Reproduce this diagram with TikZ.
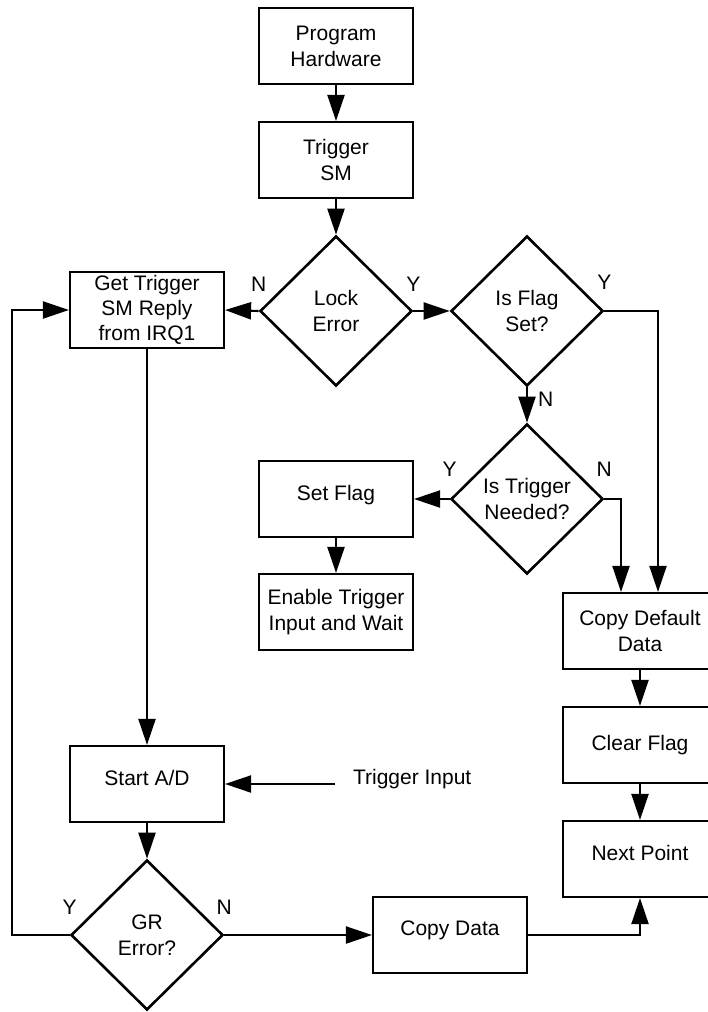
\documentclass[tikz,border=0pt]{standalone}
\usepackage{fontspec}
\setmainfont{Liberation Sans}
\usetikzlibrary{arrows.meta,shapes.geometric}

\begin{document}
\begin{tikzpicture}[x=1pt, y=-1pt, >={Triangle[length=26pt, width=17pt]}, line width=2.1pt,
	every node/.style={font=\fontsize{21}{26}\selectfont, align=center},
	box/.style={draw, rectangle, minimum width=154pt, minimum height=76pt, inner sep=2pt},
	hibox/.style={box, text depth=13pt},
	test/.style={draw, diamond, line width=2.6pt, minimum width=152pt, minimum height=150pt, inner sep=0pt},
	yn/.style={inner sep=0pt}]
	
	\useasboundingbox (0,0) rectangle (708,1012);
	
	% ================= top column =================
	\node[box] (prog) at (336,46) {Program\\Hardware};
	\node[box] (trig) at (336,160) {Trigger\\SM};
	\node[test] (lock) at (336,311) {Lock\\Error};
	\node[box, font=\fontsize{21}{25}\selectfont] (getr) at (147,310) {Get Trigger\\SM Reply\\from IRQ1};
	
	\draw[->] (prog.south) -- (trig.north);
	\draw[->] (trig.south) -- (lock.north);
	\draw[->] (lock.west) -- (getr.east);
	\node[yn, above=18pt] at (lock.west) {N};
	\node[yn, above=18pt] at (lock.east) {Y};
	
	% ================= flag tests =================
	\node[test] (flag) at (527,311) {Is Flag\\Set?};
	\node[test] (need) at (527,499) {Is Trigger\\Needed?};
	\node[hibox] (setf) at (336,499) {Set Flag};
	\node[box] (enab) at (336,612) {Enable Trigger\\Input and Wait};
	
	\draw[->] (lock.east) -- (flag.west);
	\draw[->] (flag.south) -- (need.north);
	\draw[->] (need.west) -- (setf.east);
	\draw[->] (setf.south) -- (enab.north);
	\node[yn, above=20pt] at (flag.east) {Y};
	\node[yn, anchor=west] at (537,399) {N};
	\node[yn, above=21pt] at (need.west) {Y};
	\node[yn, above=21pt] at (need.east) {N};
	
	% ================= right column =================
	\node[box] (dflt) at (640,631) {Copy Default\\Data};
	\node[box] (clr) at (640,745) {Clear Flag};
	\node[hibox] (next) at (640,859) {Next Point};
	
	\draw[->] (flag.east) -| ([xshift=18pt]dflt.north);
	\draw[->] (need.east) -| ([xshift=-19pt]dflt.north);
	\draw[->] (dflt.south) -- (clr.north);
	\draw[->] (clr.south) -- (next.north);
	
	% ================= A/D loop =================
	\node[hibox] (strt) at (147,784) {Start A/D};
	\node[anchor=west, inner sep=0pt] (trlbl) at (352,779) {Trigger Input};
	\coordinate (trin) at (335,784);
	\node[test] (gr) at (147,935) {GR\\Error?};
	\node[hibox] (cpyd) at (450,935) {Copy Data};
	
	\draw[->] (getr.south) -- (strt.north);
	\draw[->] (trin) -- (strt.east);
	\draw[->] (strt.south) -- (gr.north);
	\draw[->] (gr.west) -- ++(-58,0) |- (getr.west);
	\draw[->] (gr.east) -- (cpyd.west);
	\draw[->] (cpyd.east) -| (next.south);
	\node[yn, above=19pt] at (gr.west) {Y};
	\node[yn, above=19pt] at (gr.east) {N};
	
\end{tikzpicture}
\end{document}
